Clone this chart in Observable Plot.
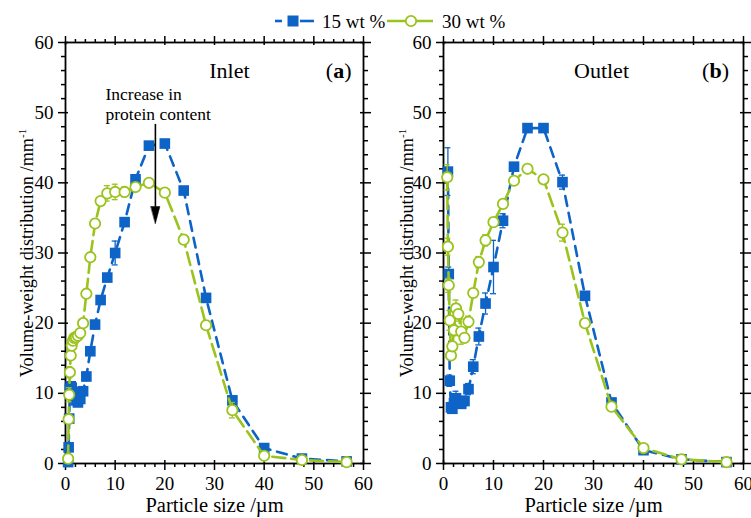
<!DOCTYPE html>
<html>
<head>
<meta charset="utf-8">
<script src="https://cdn.jsdelivr.net/npm/d3@7"></script>
<script src="https://cdn.jsdelivr.net/npm/@observablehq/plot@0.6"></script>
<style>
  html, body { margin: 0; padding: 0; background: #fff; overflow: hidden; }
  body { width: 751px; height: 518px; font-family: "Liberation Serif", "Times New Roman", serif; }
  #legend { height: 36px; }
  #row { display: flex; height: 482px; }
  #row svg { overflow: visible; }
</style>
</head>
<body>
<div id="legend"></div>
<div id="row"></div>
<script>
// Particle size classes (µm) shared by all measured distributions
const sizeBins = [0.53, 0.63, 0.74, 0.88, 1.05, 1.25, 1.49, 1.77, 2.1, 2.5, 2.97, 3.54, 4.2, 5.0,
  5.95, 7.07, 8.41, 10.0, 11.9, 14.1, 16.8, 20.0, 23.8, 28.3, 33.6, 40.0, 47.6, 56.6];

// Volume-weight distribution (mm^-1), inlet
const inlet15 = [0.2, 2.3, 6.4, 10.6, 11.0, 10.8, 10.2, 9.6, 9.0, 8.7, 9.2, 10.3, 12.4, 16.0,
  19.8, 23.3, 26.5, 30.0, 34.4, 40.5, 45.3, 45.6, 38.9, 23.6, 9.0, 2.2, 0.7, 0.3];
const inlet30 = [0.7, 6.3, 9.8, 13.0, 15.4, 16.8, 17.5, 17.9, 18.0, 18.2, 18.6, 20.0, 24.2, 29.4,
  34.2, 37.4, 38.5, 38.7, 38.7, 39.4, 40.0, 38.6, 31.9, 19.7, 7.6, 1.1, 0.5, 0.2];

// Volume-weight distribution (mm^-1), outlet
const outlet15 = [null, null, null, 41.6, 27.0, 11.8, 8.0, 7.8, 8.6, 9.3, 8.8, 8.5, 8.9, 10.6,
  13.8, 18.1, 22.8, 28.0, 34.6, 42.3, 47.8, 47.8, 40.1, 23.9, 8.7, 1.9, 0.6, 0.2];
const outlet30 = [null, null, 40.8, 30.9, 25.4, 20.4, 15.4, 16.7, 19.0, 22.1, 21.3, 18.8, 17.9, 20.2,
  24.3, 28.7, 31.8, 34.4, 37.0, 40.3, 42.0, 40.5, 32.9, 20.0, 8.1, 2.2, 0.6, 0.2];

// Standard deviations (0 = bar hidden behind the marker)
const inlet15Err = [0, 0, 0, 0.8, 0, 0, 0, 0, 0, 0, 0, 0, 0.6, 0.5,
  0.5, 0.4, 0.4, 1.7, 0.5, 0.4, 0.3, 0.3, 0.4, 0.3, 0.4, 0.2, 0, 0];
const inlet30Err = [0, 0, 1.0, 0.8, 0.6, 0.5, 0, 0, 0, 0, 0, 0, 0, 0,
  0.4, 0.4, 1.1, 1.1, 0.7, 0.5, 0.3, 0.5, 0.5, 0.3, 1.1, 0.2, 0.2, 0];
const outlet15Err = [0, 0, 0, 3.4, 1.0, 0.8, 0.7, 0.6, 0.8, 1.0, 0.6, 0.6, 0.7, 0.8,
  1.0, 1.2, 1.5, 3.8, 1.0, 0.4, 0.2, 0.3, 1.0, 0.4, 0.5, 0.2, 0, 0];
const outlet30Err = [0, 0, 1.8, 1.2, 1.0, 1.4, 0.6, 0.6, 0.8, 1.2, 1.0, 1.8, 0.6, 0.8,
  0.6, 0.8, 0.8, 0.6, 0.5, 0.6, 0.3, 0.3, 1.2, 0.3, 0.5, 0.2, 0.2, 0];

// Axis ticks
const majorTicks = [0, 10, 20, 30, 40, 50, 60];
const minorTicks = [2, 4, 6, 8, 12, 14, 16, 18, 22, 24, 26, 28, 32, 34, 36, 38, 42, 44, 46, 48, 52, 54, 56, 58];

// Labels
const seriesNames = ["15 wt %", "30 wt %"];
const xTitle = "Particle size /µm";
const yTitle = "Volume-weight distribution /mm";

const BLUE = "#0d63c6";
const GREEN = "#9bc31d";
const FONT = '"Liberation Serif", "Times New Roman", serif';

function series(values, errors) {
  return sizeBins.map((x, i) => ({x, y: values[i], e: errors[i]})).filter(d => d.y != null);
}

function errorBars(data, color) {
  const withErr = data.filter(d => d.e > 0);
  return [
    Plot.ruleX(withErr, {x: "x", y1: d => d.y - d.e, y2: d => d.y + d.e, stroke: color, strokeWidth: 1.3}),
    Plot.ruleY(withErr, {y: d => d.y + d.e, x1: d => d.x - 0.6, x2: d => d.x + 0.6, stroke: color, strokeWidth: 1.3}),
    Plot.ruleY(withErr, {y: d => d.y - d.e, x1: d => d.x - 0.6, x2: d => d.x + 0.6, stroke: color, strokeWidth: 1.3})
  ];
}

function frameAxes() {
  const noText = () => "";
  return [
    Plot.axisY({anchor: "left", ticks: minorTicks, tickSize: 4, tickFormat: noText, label: null, strokeWidth: 1.5}),
    Plot.axisY({anchor: "left", ticks: majorTicks, tickSize: 7, tickPadding: 5, fontSize: 19, label: null, strokeWidth: 1.5}),
    Plot.axisY({anchor: "right", ticks: minorTicks, tickSize: 4, tickFormat: noText, label: null, strokeWidth: 1.5}),
    Plot.axisY({anchor: "right", ticks: majorTicks, tickSize: 7, tickFormat: noText, label: null, strokeWidth: 1.5}),
    Plot.axisX({anchor: "bottom", ticks: minorTicks, tickSize: 4, tickFormat: noText, label: null, strokeWidth: 1.5}),
    Plot.axisX({anchor: "bottom", ticks: majorTicks, tickSize: 7, tickPadding: 6, fontSize: 19, label: null, strokeWidth: 1.5}),
    Plot.axisX({anchor: "top", ticks: minorTicks, tickSize: 4, tickFormat: noText, label: null, strokeWidth: 1.5}),
    Plot.axisX({anchor: "top", ticks: majorTicks, tickSize: 7, tickFormat: noText, label: null, strokeWidth: 1.5}),
    // inner halves of the major ticks
    Plot.ruleY(majorTicks, {y: d => d, x1: 0, x2: 0.6, strokeWidth: 1.5}),
    Plot.ruleY(majorTicks, {y: d => d, x1: 59.4, x2: 60, strokeWidth: 1.5}),
    Plot.ruleX(majorTicks, {x: d => d, y1: 0, y2: 0.43, strokeWidth: 1.5}),
    Plot.ruleX(majorTicks, {x: d => d, y1: 59.57, y2: 60, strokeWidth: 1.5}),
    Plot.frame({stroke: "black", strokeWidth: 1.8})
  ];
}

function panel({width, marginLeft, marginRight, blue, green, yTitleDx, notes}) {
  return Plot.plot({
    width, height: 482,
    marginLeft, marginRight, marginTop: 6, marginBottom: 55,
    style: {fontFamily: FONT, fontSize: "19px", color: "#000", background: "transparent"},
    x: {domain: [0, 60]},
    y: {domain: [0, 60]},
    marks: [
      ...frameAxes(),
      Plot.line(blue, {x: "x", y: "y", stroke: BLUE, strokeWidth: 2.6, strokeDasharray: "10,7"}),
      ...errorBars(blue, BLUE),
      Plot.dot(blue, {x: "x", y: "y", symbol: "square", r: 6, fill: BLUE}),
      Plot.line(green, {x: "x", y: "y", stroke: GREEN, strokeWidth: 2.6, strokeDasharray: "13,6"}),
      ...errorBars(green, GREEN),
      Plot.dot(green, {x: "x", y: "y", r: 5.2, stroke: GREEN, strokeWidth: 1.8, fill: "white"}),
      Plot.text([yTitle], {frameAnchor: "left", rotate: -90, dx: yTitleDx, fontSize: 18.3, lineAnchor: "middle", textAnchor: "middle"}),
      Plot.text([xTitle], {frameAnchor: "bottom", dy: 42, fontSize: 20.5, lineAnchor: "middle"}),
      ...notes
    ]
  });
}

function finish(svg) {
  d3.select(svg).selectAll("text").each(function () {
    const t = d3.select(this);
    const s = this.textContent;
    if (s === yTitle) {
      t.html(yTitle + '<tspan dy="-7" font-size="11">-1</tspan>');
    } else if (s === "(a)" || s === "(b)") {
      t.html("(<tspan font-weight=\"bold\">" + s[1] + "</tspan>)");
    }
  });
  return svg;
}

const inletNotes = [
  Plot.text(["Inlet"], {x: 33, y: 56, fontSize: 22}),
  Plot.text(["(a)"], {x: 55, y: 56, fontSize: 22}),
  Plot.text(["Increase in\nprotein content"], {x: 8.05, y: 51.3, textAnchor: "start", lineAnchor: "middle", fontSize: 17.5, lineHeight: 1.15}),
  Plot.link([{x: 18.1, y1: 48.4, y2: 36.6}], {x1: "x", x2: "x", y1: "y1", y2: "y2", stroke: "black", strokeWidth: 1.6}),
  Plot.vector([{x: 18.1, y: 34.2}], {x: "x", y: "y", rotate: 180, anchor: "end", length: 17, r: 4.5,
    fill: "black", stroke: "black", strokeWidth: 0.5,
    shape: {draw(context, l, r) { context.moveTo(0, -l); context.lineTo(-r, 0); context.lineTo(r, 0); context.closePath(); }}})
];

const outletNotes = [
  Plot.text(["Outlet"], {x: 31.6, y: 56, fontSize: 22}),
  Plot.text(["(b)"], {x: 54.4, y: 56, fontSize: 22})
];

const row = document.getElementById("row");
row.append(finish(panel({
  width: 375, marginLeft: 65, marginRight: 12,
  blue: series(inlet15, inlet15Err), green: series(inlet30, inlet30Err),
  yTitleDx: -38, notes: inletNotes
})));
row.append(finish(panel({
  width: 376, marginLeft: 68, marginRight: 8,
  blue: series(outlet15, outlet15Err), green: series(outlet30, outlet30Err),
  yTitleDx: -36, notes: outletNotes
})));

// Legend above both panels
const lg = d3.select("#legend").append("svg").attr("width", 751).attr("height", 36)
  .style("font-family", FONT).style("font-size", "19px");
lg.append("line").attr("x1", 275).attr("x2", 282).attr("y1", 21).attr("y2", 21).attr("stroke", BLUE).attr("stroke-width", 2.6);
lg.append("line").attr("x1", 300).attr("x2", 314).attr("y1", 21).attr("y2", 21).attr("stroke", BLUE).attr("stroke-width", 2.6);
lg.append("rect").attr("x", 287.5).attr("y", 15.5).attr("width", 11).attr("height", 11).attr("fill", BLUE);
lg.append("text").attr("x", 322).attr("y", 21).attr("dy", "0.35em").text(seriesNames[0]);
lg.append("line").attr("x1", 387).attr("x2", 433).attr("y1", 21).attr("y2", 21).attr("stroke", GREEN).attr("stroke-width", 2.6);
lg.append("circle").attr("cx", 411).attr("cy", 21).attr("r", 5.2).attr("fill", "white").attr("stroke", GREEN).attr("stroke-width", 1.8);
lg.append("text").attr("x", 442).attr("y", 21).attr("dy", "0.35em").text(seriesNames[1]);
</script>
</body>
</html>
